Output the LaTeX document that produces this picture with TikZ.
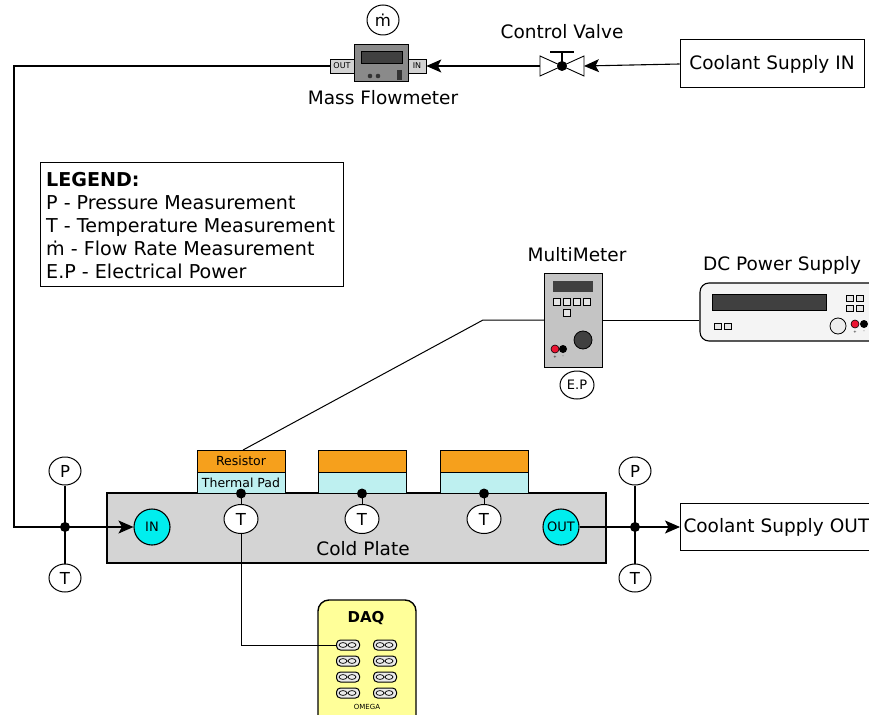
\documentclass[tikz,border=0pt]{standalone}
\usepackage{fontspec}
\setmainfont{DejaVu Sans}
\usetikzlibrary{arrows.meta,shapes.geometric,calc}

\definecolor{resorange}{RGB}{246,160,28}
\definecolor{padcyan}{RGB}{190,240,240}
\definecolor{portcyan}{RGB}{0,238,238}
\definecolor{plategray}{RGB}{212,212,212}
\definecolor{metergray}{RGB}{138,138,138}
\definecolor{taggray}{RGB}{210,210,210}
\definecolor{mmgray}{RGB}{196,196,196}
\definecolor{screen}{RGB}{64,64,64}
\definecolor{psuwhite}{RGB}{244,244,244}
\definecolor{daqyellow}{RGB}{255,255,153}
\definecolor{jackred}{RGB}{235,20,50}

\tikzset{
  pipe/.style={line width=1.1pt, draw=black},
  flow/.style={pipe, -{Stealth[length=15pt,width=13pt,inset=3.5pt]}},
  box/.style={draw, line width=1pt, rectangle, inner sep=4pt},
  sensor/.style={draw, ellipse, fill=white, line width=1pt, inner sep=0pt,
                 minimum width=32pt, minimum height=28pt, font=\fontsize{16.5}{16.5}\selectfont},
  port/.style={draw, circle, fill=portcyan, line width=1.1pt, inner sep=0pt,
               minimum size=36pt, font=\fontsize{13}{13}\selectfont},
  junction/.style={circle, fill=black, inner sep=0pt, minimum size=10pt},
  label/.style={font=\fontsize{18.5}{18.5}\selectfont},
  resistor/.style={draw, line width=1pt, fill=resorange, minimum width=88pt,
                   minimum height=22pt, inner sep=0pt, font=\fontsize{12.5}{12.5}\selectfont},
  thermalpad/.style={draw, line width=1pt, fill=padcyan, minimum width=88pt,
                   minimum height=21pt, inner sep=0pt, font=\fontsize{12.5}{12.5}\selectfont},
  tag/.style={draw, fill=taggray, line width=0.6pt, inner sep=0pt, minimum height=14pt,
              font=\fontsize{8}{8}\selectfont},
  btn/.style={draw, fill=white!90!black, line width=0.6pt},
  pill/.style={draw, fill=white!92!black, line width=1pt, rounded corners=4pt,
               minimum width=23pt, minimum height=10pt, inner sep=0pt},
}

\begin{document}
\begin{tikzpicture}[x=1pt, y=-1pt]
\useasboundingbox (0,0) rectangle (869,714);
\clip (0,0) rectangle (869,714);

% ---------- coolant supply and control valve ----------
\node[box, minimum width=184pt, minimum height=48pt, label] (sin) at (772,64) {Coolant Supply IN};

\coordinate (valve) at (562,66);
\coordinate (vr) at (584,66);
\coordinate (vl) at (540,66);
\draw[line width=0.9pt, fill=white] (540,56) -- (540,76) -- (valve) -- cycle;
\draw[line width=0.9pt, fill=white] (584,56) -- (584,76) -- (valve) -- cycle;
\draw[line width=1.4pt] (valve) -- (562,52);
\draw[line width=2.4pt] (550,52) -- (574,52);
\node[junction] at (valve) {};
\node[label] (cvlabel) at (562,32) {Control Valve};

% ---------- mass flowmeter ----------
\node[draw, fill=metergray, line width=1pt, minimum width=54pt, minimum height=37pt, inner sep=0pt] (fm) at (381,63.5) {};
\fill[screen] (361,51) rectangle (402,63);
\draw[line width=0.5pt] (361,51) rectangle (402,63);
\fill[black!80] (370,76) circle (2.3pt) (378,76) circle (2.3pt);
\fill[black!80] (397,70) rectangle (401.5,80);
\node[tag, minimum width=24pt] (fmout) at (342,66) {OUT};
\node[tag, minimum width=18pt] (fmin) at (417,66) {IN};
\node[label] (fmlabel) at (383,98) {Mass Flowmeter};
\node[sensor, minimum width=32pt, minimum height=30pt] (mdot) at (383,20) {ṁ};

\draw[flow] (sin.west) -- (vr);
\draw[flow] (vl) -- (fmin.east);

% ---------- legend ----------
\node[draw, line width=1.3pt, anchor=north west, minimum width=303pt, minimum height=124pt, inner sep=0pt] (legend) at (40,162) {};
\node[anchor=north west, align=left, inner sep=0pt, font=\fontsize{19.1}{23}\selectfont] (legendtext) at (46,172)
  {\textbf{LEGEND:}\\P - Pressure Measurement\\T - Temperature Measurement\\ṁ - Flow Rate Measurement\\E.P - Electrical Power};

% ---------- cold plate ----------
\node[draw, fill=plategray, line width=1.6pt, minimum width=499pt, minimum height=70pt, inner sep=0pt] (plate) at (356.5,528) {};
\node[label] (platelabel) at (363,549) {Cold Plate};

\node[resistor] (res1) at (241,461) {Resistor};
\node[thermalpad] (pad1) at (241,482.5) {Thermal Pad};
\node[resistor] (res2) at (362,461) {};
\node[thermalpad] (pad2) at (362,482.5) {};
\node[resistor] (res3) at (484,461) {};
\node[thermalpad] (pad3) at (484,482.5) {};

\node[sensor, minimum width=34pt, minimum height=29pt] (t1) at (241,519) {T};
\node[sensor, minimum width=34pt, minimum height=29pt] (t2) at (362,519) {T};
\node[sensor, minimum width=34pt, minimum height=29pt] (t3) at (484,519) {T};
\foreach \i in {1,2,3}{
  \draw[line width=1pt] (pad\i.south) -- (t\i.north);
  \node[junction] at (pad\i.south) {};
}

\node[port] (inport) at (152,527) {IN};
\node[port] (outport) at (561,527) {OUT};

% ---------- inlet side ----------
\coordinate (corner) at (14,66);
\node[junction] (jl) at (65,527) {};
\node[sensor] (pl) at (65,471) {P};
\node[sensor] (tl) at (65,578) {T};
\draw[pipe] (fmout.west) -- (corner) |- (jl.center);
\draw[pipe] (pl.south) -- (tl.north);
\draw[flow] (jl.center) -- (inport.west);

% ---------- outlet side ----------
\node[box, anchor=west, minimum height=47pt, inner sep=3pt, label, text width=200pt] (sout) at (680,527) {Coolant Supply OUT};
\node[junction] (jr) at (635,527) {};
\node[sensor] (pr) at (635,471) {P};
\node[sensor] (tr) at (635,578) {T};
\draw[pipe] (outport.east) -- (jr.center);
\draw[pipe] (pr.south) -- (tr.north);
\draw[flow] (jr.center) -- (sout.west);

% ---------- multimeter ----------
\node[draw, fill=mmgray, line width=1pt, minimum width=58pt, minimum height=94pt, inner sep=0pt] (mm) at (573.5,320) {};
\fill[screen] (553,281) rectangle (593,292);
\foreach \x in {553,563,573,583} \draw[btn] (\x,298) rectangle ++(7,7);
\draw[btn] (563,309) rectangle ++(7,7);
\draw[fill=screen, line width=0.8pt] (583,340) circle (9pt);
\draw[fill=jackred, line width=0.6pt] (555,349) circle (4pt);
\fill[black] (563,349) circle (4pt);
\node[font=\fontsize{4}{4}\selectfont, inner sep=0pt] (mmplus) at (555,357) {+};
\node[font=\fontsize{4}{4}\selectfont, inner sep=0pt] (mmminus) at (563,357) {-};
\node[label] (mmlabel) at (577,255) {MultiMeter};
\node[sensor, minimum width=34pt, minimum height=28pt, font=\fontsize{13}{13}\selectfont] (ep) at (577,385) {E.P};

\coordinate (bend) at (483,320);
\draw[pipe, line width=1pt] (mm.west) -- (bend) -- (243,450);

% ---------- DC power supply ----------
\node[draw, fill=psuwhite, line width=1.1pt, rounded corners=9pt, minimum width=184pt, minimum height=58pt, inner sep=0pt] (dc) at (792,312) {};
\fill[screen] (712,294) rectangle (826,310);
\draw[line width=0.5pt] (712,294) rectangle (826,310);
\foreach \x in {846,856} \foreach \y in {295,305} \draw[btn] (\x,\y) rectangle ++(7,6);
\foreach \x in {714,724} \draw[btn] (\x,323) rectangle ++(7,6);
\draw[fill=white!93!black, line width=0.8pt] (838,326) circle (8pt);
\draw[fill=jackred, line width=0.6pt] (855,324) circle (4pt);
\fill[black] (864,324) circle (4pt);
\node[font=\fontsize{4}{4}\selectfont, inner sep=0pt] (dcplus) at (855,332) {+};
\node[font=\fontsize{4}{4}\selectfont, inner sep=0pt] (dcminus) at (864,332) {-};
\node[label] (dclabel) at (782,265) {DC Power Supply};

\draw[pipe, line width=1pt] (mm.east) -- (mm.east -| dc.west);

% ---------- DAQ ----------
\node[draw, fill=daqyellow, line width=1.4pt, rounded corners=11pt, minimum width=98pt, minimum height=128pt, inner sep=0pt] (daq) at (367,664) {};
\node[font=\bfseries\fontsize{15}{15}\selectfont] (daqlabel) at (366,618) {DAQ};
\foreach \r/\y in {1/645,2/661,3/677,4/693}{
  \foreach \c/\x in {a/348,b/385}{
    \node[pill] (ch\r\c) at (\x,\y) {};
    \draw[line width=0.7pt] (\x-5,\y) ellipse (4pt and 2.4pt) (\x+4,\y) ellipse (4pt and 2.4pt);
  }
}
\node[font=\fontsize{7}{7}\selectfont] (omega) at (367,707) {OMEGA};

\draw[pipe, line width=1pt] (t1.south) |- (ch1a.west);

\end{tikzpicture}
\end{document}
